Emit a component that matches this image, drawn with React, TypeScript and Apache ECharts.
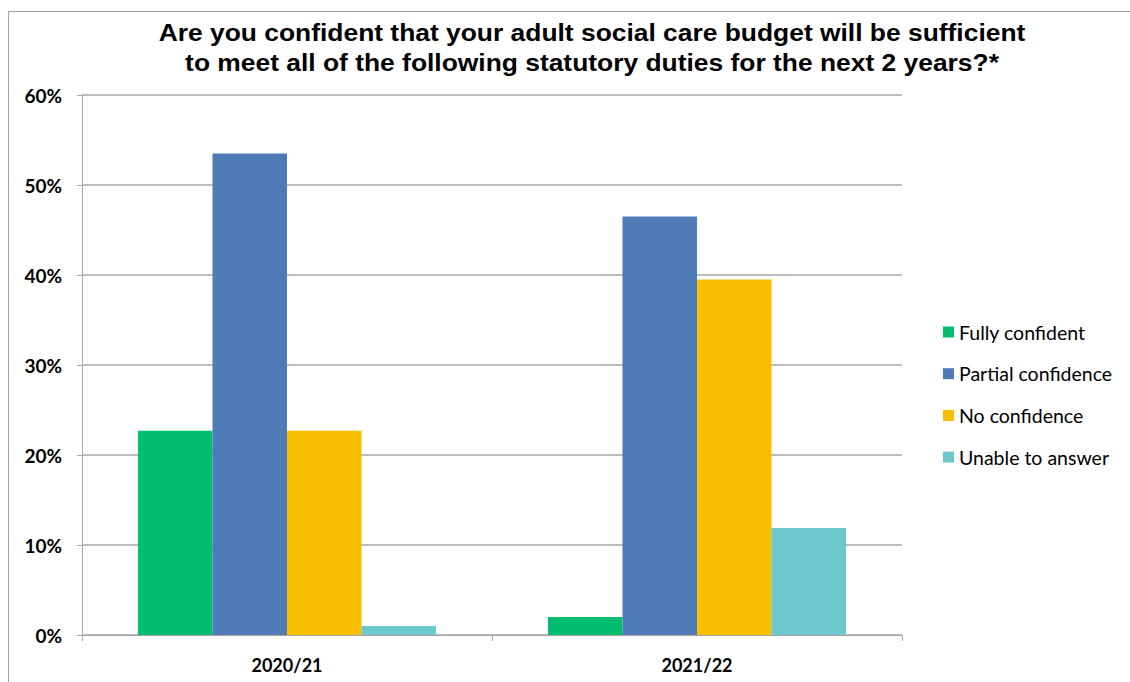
import React, { useEffect, useRef } from "react";
import * as echarts from "echarts";

const categories = ["2020/21", "2021/22"];
const seriesNames = ["Fully confident", "Partial confidence", "No confidence", "Unable to answer"];
const fullyConfident = [22.7, 2.0];
const partialConfidence = [53.5, 46.5];
const noConfidence = [22.7, 39.5];
const unableToAnswer = [1.0, 11.9];
const colors = ["#00BE6E", "#4E7BB5", "#F8BE00", "#6CC8CC"];
const yTicks = { min: 0, max: 60, interval: 10 };
const titleText =
  "Are you confident that your adult social care budget will be sufficient\nto meet all of the following statutory duties for the next 2 years?*";

export default function App() {
  const ref = useRef<HTMLDivElement>(null);
  useEffect(() => {
    if (!ref.current) return;
    const chart = echarts.init(ref.current, undefined, { renderer: "svg" });
    const values = [fullyConfident, partialConfidence, noConfidence, unableToAnswer];
    chart.setOption({
      animation: false,
      backgroundColor: "#ffffff",
      graphic: [
        {
          type: "rect",
          shape: { x: 8.5, y: 11.5, width: 1140, height: 700 },
          style: { fill: "none", stroke: "#a0a0a0", lineWidth: 1 },
          silent: true,
          z: -10,
        },
        {
          type: "text",
          x: 592,
          y: 17,
          scaleX: 1.1,
          style: {
            text: titleText,
            align: "center",
            verticalAlign: "top",
            textAlign: "center",
            textVerticalAlign: "top",
            fontFamily: "Liberation Sans, Arial, sans-serif",
            fontWeight: "bold",
            fontSize: 24,
            lineHeight: 30,
            fill: "#000000",
          },
        },
      ],
      legend: {
        orient: "vertical",
        left: 943,
        top: 322,
        padding: 0,
        itemWidth: 11,
        itemHeight: 11,
        itemGap: 21.7,
        icon: "rect",
        data: seriesNames,
        textStyle: {
          fontFamily: "Lato, sans-serif",
          fontSize: 19.5,
          lineHeight: 20,
          color: "#000000",
        },
      },
      grid: { left: 82, right: 228, top: 95, bottom: 47, containLabel: false },
      xAxis: {
        type: "category",
        data: categories,
        axisLine: { show: true, lineStyle: { color: "#a6a6a6", width: 1 } },
        axisTick: { show: true, length: 6, lineStyle: { color: "#a6a6a6" } },
        axisLabel: {
          fontFamily: "Lato, sans-serif",
          fontWeight: "bold",
          fontSize: 18,
          color: "#000000",
          margin: 21,
        },
      },
      yAxis: {
        type: "value",
        min: yTicks.min,
        max: yTicks.max,
        interval: yTicks.interval,
        axisLine: { show: true, lineStyle: { color: "#a6a6a6", width: 1 } },
        axisTick: { show: true, length: 5, lineStyle: { color: "#a6a6a6" } },
        splitLine: { show: true, lineStyle: { color: "#a6a6a6", width: 1.5 } },
        axisLabel: {
          formatter: "{value}%",
          fontFamily: "Lato, sans-serif",
          fontWeight: "bold",
          fontSize: 19,
          color: "#000000",
          margin: 20,
        },
      },
      series: seriesNames.map((name, i) => ({
        name,
        type: "bar",
        data: values[i],
        barGap: "0%",
        barCategoryGap: "27.3%",
        itemStyle: { color: colors[i] },
      })),
    });
    return () => chart.dispose();
  }, []);
  return (
    <div
      ref={ref}
      style={{ position: "fixed", left: 0, top: 0, width: 1130, height: 682 }}
    />
  );
}
